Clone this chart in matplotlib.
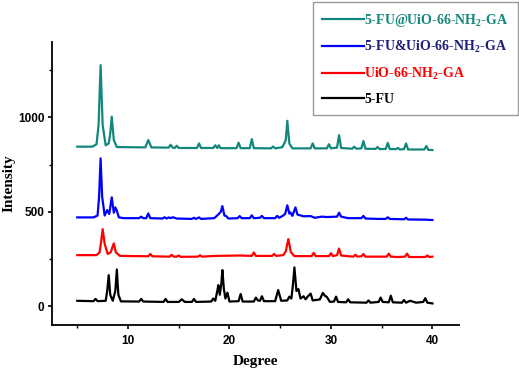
import matplotlib
matplotlib.use("Agg")
from matplotlib import pyplot as plt
from matplotlib.ticker import MultipleLocator

plt.rcParams['mathtext.fontset'] = 'custom'
plt.rcParams['mathtext.rm'] = 'Liberation Serif:bold'
plt.rcParams['mathtext.bf'] = 'Liberation Serif:bold'

# values (2-theta in degrees, intensity in counts)
fu_ga_x = [5.0, 6.5, 6.9, 7.1, 7.3, 7.5, 7.8, 8.1, 8.25, 8.4, 8.6, 8.9, 11.7, 12.0, 12.3,
           14.0, 14.2, 14.4, 14.6, 14.8, 15.0, 16.8, 17.0, 17.2, 18.4, 18.6, 18.8, 18.95,
           19.1, 19.3, 20.7, 20.9, 21.1, 22.0, 22.2, 22.4, 24.1, 24.3, 24.5, 25.2, 25.4,
           25.55, 25.7, 25.9, 26.2, 28.0, 28.2, 28.4, 29.6, 29.8, 30.0, 30.6, 30.8, 31.0,
           32.1, 32.3, 32.5, 33.0, 33.2, 33.4, 34.4, 34.6, 34.8, 35.4, 35.6, 35.8, 36.4,
           36.6, 36.8, 37.2, 37.4, 37.6, 39.2, 39.4, 39.6, 40.0]
fu_ga_y = [845, 845, 858, 960, 1277, 960, 852, 862, 915, 1004, 880, 843, 841, 880, 841,
           840, 855, 840, 838, 850, 838, 838, 862, 838, 838, 852, 838, 852, 838, 837,
           837, 866, 837, 837, 885, 837, 836, 846, 836, 842, 862, 880, 982, 862, 836,
           836, 862, 836, 836, 858, 836, 840, 906, 838, 834, 845, 834, 836, 875, 834,
           833, 843, 832, 833, 865, 832, 832, 838, 830, 832, 862, 830, 830, 848, 828, 827]

mix_x = [5.0, 6.6, 7.0, 7.15, 7.3, 7.45, 7.7, 7.95, 8.15, 8.4, 8.6, 8.75, 8.9, 9.1, 9.6,
         11.1, 11.3, 11.5, 11.8, 12.0, 12.2, 13.4, 13.6, 13.8, 14.0, 14.2, 14.4, 14.8,
         16.3, 16.5, 16.7, 17.0, 17.2, 18.5, 18.75, 19.0, 19.15, 19.3, 19.5, 19.7, 19.9,
         20.8, 21.0, 21.2, 22.0, 22.2, 22.4, 23.0, 23.2, 23.4, 24.5, 24.7, 24.9, 25.3,
         25.5, 25.7, 25.9, 26.0, 26.2, 26.5, 26.7, 26.9, 27.3, 28.0, 28.4, 29.1, 29.6,
         30.6, 30.8, 31.0, 31.7, 33.0, 33.2, 33.4, 34.7, 35.4, 35.6, 35.8, 37.2, 37.4,
         37.6, 39.3, 40.0]
mix_y = [470, 470, 480, 580, 783, 580, 480, 509, 488, 576, 495, 523, 505, 470, 466,
         466, 474, 466, 466, 491, 466, 464, 471, 464, 470, 466, 471, 464,
         462, 468, 462, 470, 462, 466, 478, 491, 500, 530, 480, 476, 464,
         466, 477, 466, 466, 481, 466, 468, 478, 466, 466, 478, 468, 480,
         490, 534, 490, 497, 478, 523, 485, 482, 476, 477, 468, 474, 472,
         474, 495, 474, 466, 466, 478, 464, 462, 462, 471, 462, 460, 468,
         459, 458, 456]

ga_x = [5.0, 6.9, 7.2, 7.35, 7.5, 7.7, 8.0, 8.3, 8.45, 8.6, 8.8, 9.2, 12.0, 12.2, 12.4,
        14.1, 14.3, 14.5, 14.8, 15.0, 15.2, 16.9, 17.1, 17.3, 18.6, 21.0, 22.2, 22.4, 22.6,
        24.2, 24.4, 24.6, 25.3, 25.55, 25.8, 26.05, 26.4, 28.1, 28.3, 28.5, 29.8, 30.0,
        30.2, 30.6, 30.8, 31.0, 32.2, 32.4, 32.6, 33.0, 33.2, 33.4, 34.7, 35.5, 35.7,
        35.9, 36.6, 37.3, 37.5, 37.7, 39.3, 39.5, 39.7, 40.0]
ga_y = [270, 270, 285, 340, 408, 330, 276, 285, 310, 332, 285, 266, 264, 276, 264,
        262, 272, 262, 262, 268, 261, 262, 269, 262, 266, 268, 266, 284, 266,
        266, 276, 266, 270, 290, 355, 286, 265, 265, 282, 265, 265, 280,
        265, 270, 305, 268, 262, 272, 262, 264, 276, 262, 262, 262, 278,
        262, 260, 262, 278, 260, 260, 268, 260, 262]

fu_x = [5.0, 6.6, 6.8, 7.0, 7.8, 7.95, 8.1, 8.25, 8.5, 8.75, 8.9, 9.05, 9.3, 11.1, 11.3,
        11.5, 13.5, 13.7, 13.9, 15.0, 15.3, 15.6, 16.3, 16.5, 16.7, 18.2, 18.4, 18.6,
        18.8, 18.9, 19.05, 19.2, 19.3, 19.45, 19.6, 19.8, 20.0, 20.9, 21.1, 21.3, 22.4,
        22.6, 22.8, 23.0, 23.2, 23.4, 24.5, 24.8, 25.1, 25.7, 25.9, 26.1, 26.25, 26.4,
        26.6, 26.8, 27.0, 27.3, 27.5, 27.7, 28.0, 28.2, 28.9, 29.2, 29.4, 29.6, 29.9,
        30.3, 30.5, 30.7, 31.5, 31.7, 31.9, 33.5, 33.7, 33.9, 34.7, 34.9, 35.1, 35.7,
        35.9, 36.1, 37.0, 37.2, 37.4, 37.8, 38.4, 39.1, 39.3, 39.5, 40.0]
fu_y = [28, 26, 38, 26, 28, 80, 164, 60, 28, 80, 194, 60, 25, 24, 38,
        24, 22, 38, 22, 22, 36, 22, 22, 38, 22, 24, 40, 28,
        80, 111, 60, 120, 191, 90, 40, 71, 24, 26, 64, 24, 24,
        45, 30, 28, 52, 26, 26, 85, 28, 30, 50, 40, 110, 205,
        80, 90, 40, 52, 36, 50, 66, 30, 35, 70, 55, 48, 22,
        24, 50, 22, 20, 36, 20, 18, 30, 18, 22, 45, 22, 20,
        55, 20, 18, 32, 18, 28, 18, 22, 42, 18, 14]

series = [
    (fu_ga_x, fu_ga_y, '#12877b', '#12877b', r'5-FU@UiO-66-NH$_{2}$-GA'),
    (mix_x, mix_y, '#0000ff', '#1c1c7a', r'5-FU&UiO-66-NH$_{2}$-GA'),
    (ga_x, ga_y, '#ff0000', '#ff0000', r'UiO-66-NH$_{2}$-GA'),
    (fu_x, fu_y, '#000000', '#000000', '5-FU'),
]

fig = plt.figure(figsize=(5.19, 3.68), dpi=100)
ax = fig.add_axes([0.100, 0.117, 0.784, 0.769])

for x, y, color, tcolor, label in series:
    ax.plot(x, y, color=color, linewidth=1.6, label=label)

ax.set_xlim(2.5, 42.6)
ax.set_ylim(-100, 1400)
ax.xaxis.set_major_locator(MultipleLocator(10))
ax.xaxis.set_minor_locator(MultipleLocator(5))
ax.yaxis.set_major_locator(MultipleLocator(500))
ax.yaxis.set_minor_locator(MultipleLocator(250))
ax.tick_params(which='major', direction='out', length=3, width=1.2, labelsize=8.5, pad=2.5)
ax.tick_params(which='minor', direction='out', length=2, width=1.0)
ax.tick_params(axis='x', pad=4)
for lab in ax.get_xticklabels() + ax.get_yticklabels():
    lab.set_fontweight('bold')
    lab.set_family('Liberation Sans')

for side in ['top', 'right']:
    ax.spines[side].set_visible(False)
for side in ['left', 'bottom']:
    ax.spines[side].set_linewidth(1.3)

ax.set_xlabel('Degree', fontsize=11, fontweight='bold', family='Liberation Serif', labelpad=6)
ax.set_ylabel('Intensity', fontsize=11, fontweight='bold', family='Liberation Serif')
ax.yaxis.set_label_coords(-0.09, 0.5)

leg = fig.legend(loc='upper right', bbox_to_anchor=(0.998, 0.995), fancybox=False,
                 edgecolor='#808080', handlelength=3.0, handletextpad=0.0,
                 labelspacing=0.75, borderpad=0.7, borderaxespad=0,
                 prop={'family': 'Liberation Serif', 'weight': 'bold', 'size': 10})
leg.get_frame().set_linewidth(1.0)
for text, s in zip(leg.get_texts(), series):
    text.set_color(s[3])

fig.savefig('out.png', dpi=100)
